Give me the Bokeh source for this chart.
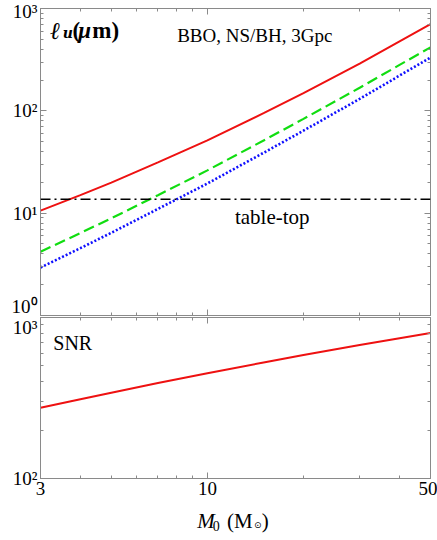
import json
from bokeh.plotting import figure
from bokeh.models import (FixedTicker, LogAxis, Label, Range1d, Span,
                          CustomJSTickFormatter)
from bokeh.layouts import column
from bokeh.embed import file_html
from bokeh.resources import INLINE

# ---- data ----
mass = [3, 4, 5, 7, 10, 15, 20, 30, 40, 50]
lu_red = [10.6, 15.0, 19.9, 31.3, 51.4, 95, 149, 290, 478, 702]
lu_green = [4.2, 6.39, 8.91, 15.0, 26.2, 51.3, 83.4, 168, 281, 417]
lu_blue = [2.94, 4.55, 6.43, 11.0, 19.5, 38.9, 64.0, 131, 221, 332]
table_top = 13.7
snr = [275, 311, 341, 392, 450, 526, 585, 674, 744, 800]

x_ticks = [3, 10, 50]
x_minor = [4, 5, 6, 7, 8, 9, 20, 30, 40]
y_ticks_top = [1, 10, 100, 1000]
y_ticks_bot = [100, 1000]
y_minor_top = [m * d for d in (1, 10, 100) for m in range(2, 10)]
y_minor_bot = [m * 100 for m in range(2, 10)]
y_tick_labels = {"1": "10\u2070", "10": "10\u00b9", "100": "10\u00b2", "1000": "10\u00b3"}

SERIF = "Liberation Serif"
FRAME = "#8a8a8a"

fmt_y = CustomJSTickFormatter(code="const m = %s; const k = String(Math.round(tick)); return (k in m) ? m[k] : '';"
                              % json.dumps(y_tick_labels))
fmt_x = CustomJSTickFormatter(code="return String(Math.round(tick));")
fmt_none = CustomJSTickFormatter(code="return '';")


def style_axis(ax, ticker, fmt):
    ax.ticker = ticker
    ax.formatter = fmt
    ax.axis_line_color = FRAME
    ax.major_tick_line_color = FRAME
    ax.minor_tick_line_color = FRAME
    ax.major_tick_in = 6
    ax.major_tick_out = 0
    ax.minor_tick_in = 3
    ax.minor_tick_out = 0
    ax.major_label_text_font = SERIF
    ax.major_label_text_color = "black"
    ax.major_label_text_font_size = "19px"
    ax.major_label_standoff = 3 if fmt is not fmt_none else 0


def make_fig(height, yr, top_border, bottom_border, y_type="log"):
    p = figure(width=437, height=height, x_axis_type="log", y_axis_type=y_type,
               x_range=Range1d(3, 50), y_range=Range1d(*yr),
               output_backend="svg", toolbar_location=None,
               min_border_left=40, min_border_right=7,
               min_border_top=top_border, min_border_bottom=bottom_border)
    p.xgrid.visible = False
    p.ygrid.visible = False
    p.outline_line_color = FRAME
    p.background_fill_color = "white"
    p.border_fill_color = "white"
    return p


def lbl(p, x, y, text, size, style="normal", font=SERIF):
    p.add_layout(Label(x=x, y=y, text=text, text_font=font,
                       text_font_style=style, text_font_size=size,
                       text_baseline="alphabetic", text_color="black"))


# ---- top panel ----
p1 = make_fig(316, (1, 1000), 8, 1)
xt = FixedTicker(ticks=x_ticks, minor_ticks=x_minor)
yt1 = FixedTicker(ticks=y_ticks_top, minor_ticks=y_minor_top)
style_axis(p1.xaxis[0], xt, fmt_none)
style_axis(p1.yaxis[0], yt1, fmt_y)
ax_top = LogAxis()
style_axis(ax_top, xt, fmt_none)
p1.add_layout(ax_top, "above")
ax_r1 = LogAxis()
style_axis(ax_r1, yt1, fmt_none)
p1.add_layout(ax_r1, "right")

p1.add_layout(Span(location=table_top, dimension="width", line_color="black",
                   line_width=1.6, line_dash="10 4 2 4"))
p1.line(mass, lu_blue, line_color="#1010ff", line_width=2.6, line_dash="2 2")
p1.line(mass, lu_green, line_color="#11dd11", line_width=2.2, line_dash="11 5")
p1.line(mass, lu_red, line_color="#ee1111", line_width=2.0)

lbl(p1, 3.22, 610, "\u2113", "24px", "bold italic", "DejaVu Serif")
lbl(p1, 3.52, 570, "u", "14px", "bold italic", "DejaVu Serif")
lbl(p1, 3.78, 610, "(", "23px", "bold")
lbl(p1, 3.94, 610, "\u03bc", "23px", "bold italic")
lbl(p1, 4.36, 610, "m)", "23px", "bold")
lbl(p1, 8.04, 545, "BBO, NS/BH, 3Gpc", "19px")
lbl(p1, 12.2, 9.25, "table-top", "21px")

# ---- bottom panel ----
p2 = make_fig(188, (100, 1000), 1, 26)
yt2 = FixedTicker(ticks=y_ticks_bot, minor_ticks=y_minor_bot)
style_axis(p2.xaxis[0], xt, fmt_x)
style_axis(p2.yaxis[0], yt2, fmt_y)
ax_top2 = LogAxis()
style_axis(ax_top2, xt, fmt_none)
p2.add_layout(ax_top2, "above")
ax_r2 = LogAxis()
style_axis(ax_r2, yt2, fmt_none)
p2.add_layout(ax_r2, "right")

p2.line(mass, snr, line_color="#ee1111", line_width=2.0)
lbl(p2, 3.29, 698, "SNR", "20px")

# ---- x-axis title strip: M0 (M_sun) ----
p3 = make_fig(36, (0, 1), 0, 0, y_type="linear")
p3.xaxis.visible = False
p3.yaxis.visible = False
p3.outline_line_color = None
lbl(p3, 9.29, 0.53, "M", "21px", "italic")
lbl(p3, 10.4, 0.39, "0", "14px")
lbl(p3, 11.52, 0.53, "(M", "21px")
lbl(p3, 14.0, 0.44, "\u2299", "9px", "normal", "DejaVu Sans")
lbl(p3, 14.8, 0.53, ")", "21px")

layout = column(p1, p2, p3, spacing=0)
open("out.html", "w").write(file_html(layout, INLINE))
